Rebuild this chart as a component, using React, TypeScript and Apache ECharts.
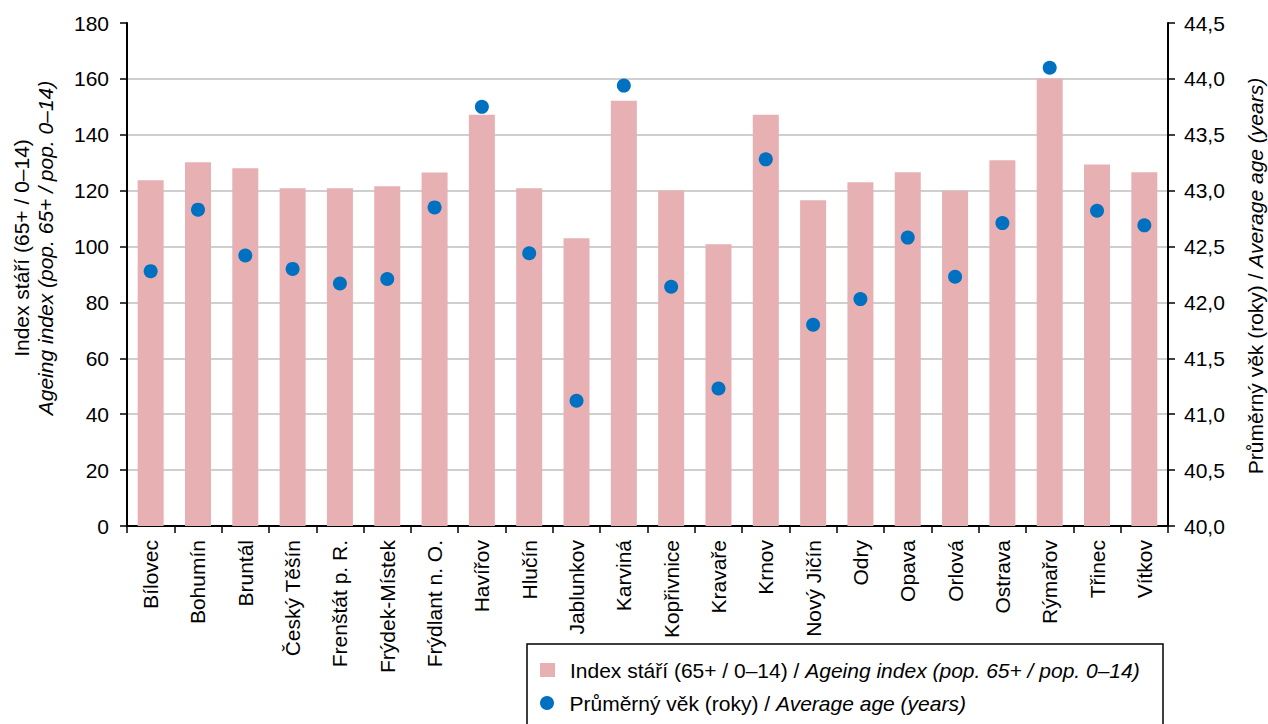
import React, { useEffect, useRef } from "react";
import * as echarts from "echarts";

const categories = [
  "Bílovec", "Bohumín", "Bruntál", "Český Těšín", "Frenštát p. R.", "Frýdek-Místek",
  "Frýdlant n. O.", "Havířov", "Hlučín", "Jablunkov", "Karviná", "Kopřivnice",
  "Kravaře", "Krnov", "Nový Jičín", "Odry", "Opava", "Orlová", "Ostrava",
  "Rýmařov", "Třinec", "Vítkov",
];
const ageingIndex = [
  123.7, 130.2, 128.0, 120.9, 120.9, 121.6, 126.5, 147.2, 120.9, 103.0, 152.2,
  120.1, 100.8, 147.2, 116.6, 123.0, 126.6, 120.0, 130.9, 160.1, 129.4, 126.6,
];
const averageAge = [
  42.28, 42.83, 42.42, 42.30, 42.17, 42.21, 42.85, 43.75, 42.44, 41.12, 43.94,
  42.14, 41.23, 43.28, 41.80, 42.03, 42.58, 42.23, 42.71, 44.10, 42.82, 42.69,
];

const barName = "Index stáří";
const dotName = "Průměrný věk";
const leftTitle1 = "Index stáří (65+ / 0–14)";
const leftTitle2 = "Ageing index (pop. 65+ / pop. 0–14)";
const rightTitleA = "Průměrný věk (roky) / ";
const rightTitleB = "Average age (years)";
const legendBarA = "Index stáří (65+ / 0–14) / ";
const legendBarB = "Ageing index (pop. 65+ / pop. 0–14)";
const legendDotA = "Průměrný věk (roky) / ";
const legendDotB = "Average age (years)";

const FONT = '"Liberation Sans", Arial, sans-serif';
const FS = 21;

export default function App() {
  const ref = useRef<HTMLDivElement>(null);
  useEffect(() => {
    if (!ref.current) return;
    const chart = echarts.init(ref.current, null, { renderer: "svg" });
    const rich = {
      n: { fontSize: FS, fontFamily: FONT, color: "#000", lineHeight: 22 },
      i: { fontSize: FS, fontFamily: FONT, color: "#000", lineHeight: 22, fontStyle: "italic" },
    };
    const legendBase = {
      orient: "horizontal",
      left: 540,
      padding: 0,
      itemWidth: 15,
      itemHeight: 14,
      formatter: (name: string) =>
        name === barName
          ? `{n|${legendBarA}}{i|${legendBarB}}`
          : `{n|${legendDotA}}{i|${legendDotB}}`,
      textStyle: {
        fontSize: FS,
        fontFamily: FONT,
        color: "#000",
        lineHeight: 22,
        padding: [0, 0, 0, 10],
        rich,
      },
    };
    chart.setOption({
      animation: false,
      backgroundColor: "#fff",
      textStyle: { fontFamily: FONT },
      grid: { left: 127, right: 100, top: 23, bottom: 198 },
      legend: [
        { ...legendBase, top: 659, data: [{ name: barName, icon: "rect" }] },
        { ...legendBase, top: 692, data: [{ name: dotName, icon: "circle" }] },
      ],
      xAxis: {
        type: "category",
        data: categories,
        axisLine: { show: true, lineStyle: { color: "#000", width: 2 } },
        axisTick: { show: true, length: 7, lineStyle: { color: "#000", width: 1.5 } },
        axisLabel: {
          rotate: 90,
          interval: 0,
          margin: 14,
          fontSize: FS,
          fontFamily: FONT,
          color: "#000",
        },
      },
      yAxis: [
        {
          type: "value",
          min: 0,
          max: 180,
          interval: 20,
          axisLine: { show: true, lineStyle: { color: "#000", width: 2 } },
          axisTick: { show: true, length: 7, lineStyle: { color: "#000", width: 1.5 } },
          axisLabel: { margin: 18, fontSize: FS, fontFamily: FONT, color: "#000" },
          splitLine: {
            show: true,
            showMaxLine: false,
            showMinLine: false,
            lineStyle: { color: "#BFBFBF", width: 1.5 },
          },
        },
        {
          type: "value",
          min: 40,
          max: 44.5,
          interval: 0.5,
          position: "right",
          axisLine: { show: true, lineStyle: { color: "#000", width: 2 } },
          axisTick: { show: true, length: 7, lineStyle: { color: "#000", width: 1.5 } },
          axisLabel: {
            margin: 16,
            fontSize: FS,
            fontFamily: FONT,
            color: "#000",
            formatter: (v: number) => v.toFixed(1).replace(".", ","),
          },
          splitLine: { show: false },
        },
      ],
      graphic: [
        {
          type: "rect",
          shape: { x: 527, y: 644, width: 636, height: 100 },
          style: { fill: "none", stroke: "#000", lineWidth: 1.5 },
        },
        {
          type: "text",
          x: 21,
          y: 248,
          rotation: Math.PI / 2,
          style: {
            text: leftTitle1,
            fontSize: FS,
            fontFamily: FONT,
            fill: "#000",
            align: "center",
            verticalAlign: "middle",
          },
        },
        {
          type: "text",
          x: 45,
          y: 248,
          rotation: Math.PI / 2,
          style: {
            text: leftTitle2,
            fontSize: FS,
            fontFamily: FONT,
            fontStyle: "italic",
            fill: "#000",
            align: "center",
            verticalAlign: "middle",
          },
        },
        {
          type: "text",
          x: 1255,
          y: 276,
          rotation: Math.PI / 2,
          style: {
            text: `{n|${rightTitleA}}{i|${rightTitleB}}`,
            rich,
            fontSize: FS,
            fontFamily: FONT,
            fill: "#000",
            align: "center",
            verticalAlign: "middle",
          },
        },
      ],
      series: [
        {
          name: barName,
          type: "bar",
          data: ageingIndex,
          barWidth: 26,
          itemStyle: { color: "#E7B0B3" },
          yAxisIndex: 0,
        },
        {
          name: dotName,
          type: "scatter",
          data: averageAge,
          yAxisIndex: 1,
          symbol: "circle",
          symbolSize: 14,
          itemStyle: { color: "#0070C0", opacity: 1 },
        },
      ],
    });
    return () => chart.dispose();
  }, []);
  return (
    <div
      ref={ref}
      style={{ position: "fixed", left: 0, top: 0, width: 1268, height: 724 }}
    />
  );
}
